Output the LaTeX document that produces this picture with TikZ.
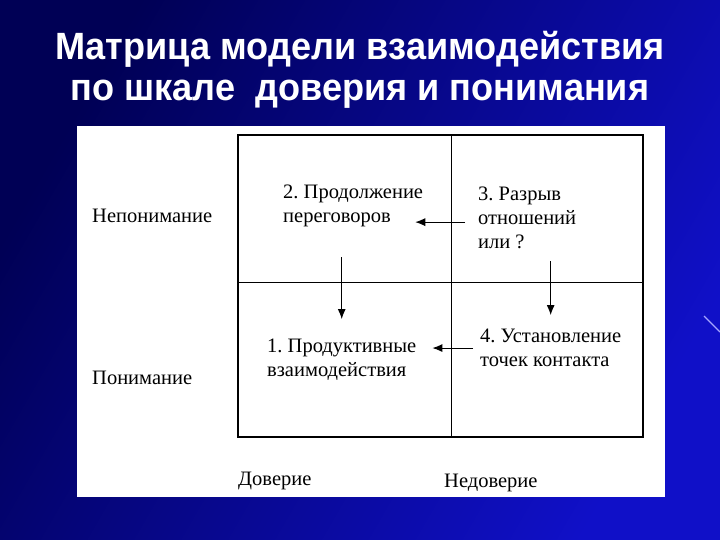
\documentclass[tikz,border=0pt]{standalone}
\usepackage{fontspec}
\setmainfont{Liberation Serif}
\newfontfamily\titlefont{Liberation Sans}
\usepackage{tikz}
\usetikzlibrary{arrows.meta, positioning, calc}
\frenchspacing

\definecolor{navydeep}{RGB}{0,0,85}
\definecolor{navybright}{RGB}{16,16,200}

\tikzset{
  cell/.style={inner sep=0pt, align=left, anchor=north west, font=\fontsize{20.5}{24}\selectfont},
  side/.style={inner sep=0pt, anchor=west, font=\fontsize{20.5}{24}\selectfont},
  arr/.style={-{Latex[length=10pt,width=8pt]}, line width=0.9pt},
  headline/.style={text=white, anchor=base, font=\titlefont\bfseries\fontsize{38}{40}\selectfont}
}

\begin{document}
\begin{tikzpicture}[x=1pt, y=-1pt]
  \useasboundingbox (0,0) rectangle (720,540);
  % fond
  \shade[left color=navydeep, right color=navybright, shading angle=60] (0,0) rectangle (720,540);
  \draw[blue!35!white, line width=1.2pt] (704,316) -- (720,332);
  % titre
  \node[headline, xscale=0.95] (title1) at (360,60) {Матрица модели взаимодействия};
  \node[headline, xscale=0.95] (title2) at (360,101) {по шкале\ \ доверия и понимания};
  % panneau
  \fill[white] (77,126) rectangle (665,497);
  % matrice
  \draw[line width=1.6pt] (238,135) rectangle (643,437);
  \draw[line width=1pt] (451,135) -- (451,437);
  \draw[line width=1pt] (238,282) -- (643,282);
  % cases
  \node[cell] (t2) at (283,185) {2. Продолжение\\переговоров};
  \node[cell] (t3) at (478,187) {3. Разрыв\\отношений\\или ?};
  \node[cell] (t1) at (267,339) {1. Продуктивные\\взаимодействия};
  \node[cell] (t4) at (480,329) {4. Установление\\точек контакта};
  % axes
  \node[side] (nu) at (92,216) {Непонимание};
  \node[side] (un) at (92,378) {Понимание};
  \node[side] (tr) at (238,481) {Доверие};
  \node[side] (mt) at (444,483) {Недоверие};
  % fleches
  \draw[arr] ([xshift=-13pt, yshift=-4pt]t3.west) -- ([xshift=-8pt, yshift=-4pt]t3.west -| t2.east);
  \draw[arr, shorten <=30pt, shorten >=20pt] (t1.north |- t2.south) -- (t1.north);
  \draw[arr, shorten <=12pt, shorten >=14pt] (t4.north |- t3.south) -- (t4.north);
  \draw[arr, shorten <=7pt, shorten >=16pt] (t4.west) -- (t4.west -| t1.east);
\end{tikzpicture}
\end{document}
